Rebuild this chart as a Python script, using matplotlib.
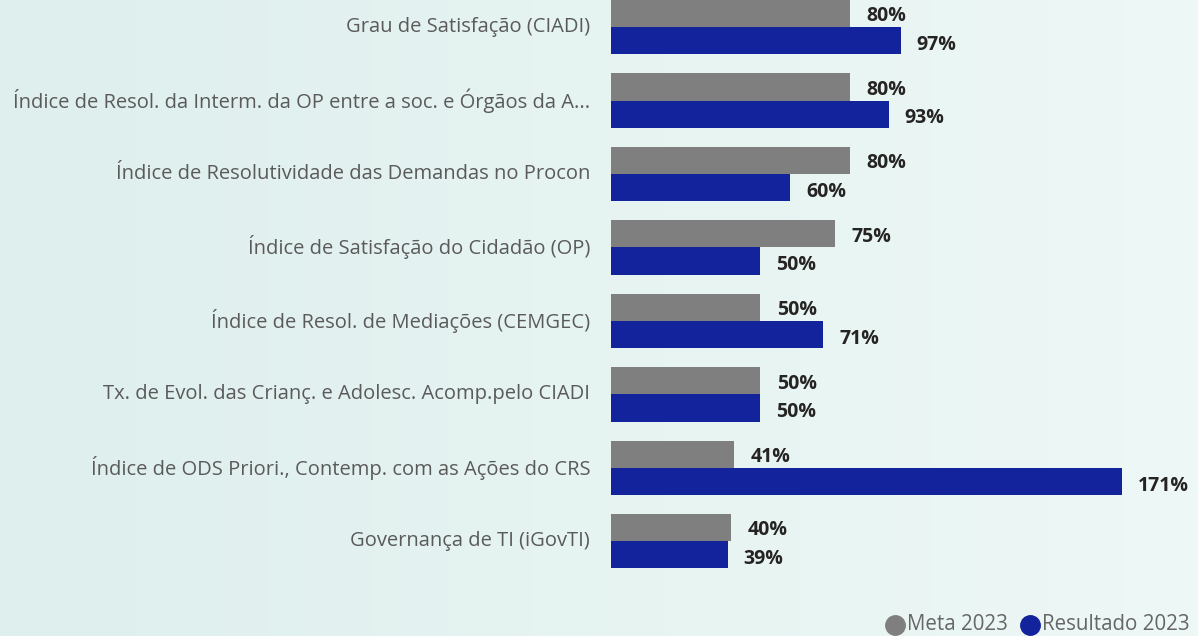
import numpy as np
import matplotlib.pyplot as plt
from matplotlib.lines import Line2D

categorias = [
    "Grau de Satisfação (CIADI)",
    "Índice de Resol. da Interm. da OP entre a soc. e Órgãos da A...",
    "Índice de Resolutividade das Demandas no Procon",
    "Índice de Satisfação do Cidadão (OP)",
    "Índice de Resol. de Mediações (CEMGEC)",
    "Tx. de Evol. das Crianç. e Adolesc. Acomp.pelo CIADI",
    "Índice de ODS Priori., Contemp. com as Ações do CRS",
    "Governança de TI (iGovTI)",
]
meta_2023 = [80, 80, 80, 75, 50, 50, 41, 40]
resultado_2023 = [97, 93, 60, 50, 71, 50, 171, 39]

cor_meta = "#7f7f7f"
cor_res = "#13239c"

plt.rcParams['font.family'] = ['Open Sans', 'DejaVu Sans']

fig = plt.figure(figsize=(11.98, 6.36), dpi=100)
W, H = 1198, 636

# fundo em degradê
bg = fig.add_axes([0, 0, 1, 1], zorder=-1)
esq = np.array([222, 239, 237]) / 255
dir_ = np.array([238, 248, 246]) / 255
t = np.linspace(0, 1, 256)[None, :, None]
grad = esq * (1 - t) + dir_ * t
bg.imshow(grad, aspect="auto", extent=[0, 1, 0, 1])
bg.axis("off")

ax = fig.add_axes([611 / W, 1 - 600 / H, (W - 611) / W, 600 / H])
ax.set_facecolor("none")

y = np.arange(len(categorias))
h = 0.37
ax.barh(y - h / 2, meta_2023, height=h, color=cor_meta)
ax.barh(y + h / 2, resultado_2023, height=h, color=cor_res)

ax.set_xlim(0, (W - 611) / 2.988)
ax.set_ylim(7.80, -0.37)

for i in range(len(categorias)):
    ax.annotate(f"{meta_2023[i]}%", (meta_2023[i], y[i] - h / 2), xytext=(12, -2),
                textcoords="offset points", va="center", ha="left",
                fontsize=14, fontweight="bold", color="#252423")
    ax.annotate(f"{resultado_2023[i]}%", (resultado_2023[i], y[i] + h / 2), xytext=(11.5, -3),
                textcoords="offset points", va="center", ha="left",
                fontsize=14, fontweight="bold", color="#252423")
    ax.annotate(categorias[i], (0, y[i]), xytext=(-15, 0), textcoords="offset points",
                va="center", ha="right", fontsize=14.5, color="#5a5a5a",
                annotation_clip=False)

ax.set_xticks([])
ax.set_yticks([])
for s in ax.spines.values():
    s.set_visible(False)

# legenda
ly = 1 - 625 / H
fig.add_artist(Line2D([895 / W], [ly], marker="o", markersize=14, color=cor_meta,
                      transform=fig.transFigure))
fig.text(907 / W, ly, "Meta 2023", color="#666666", fontsize=14.8, va="center")
fig.add_artist(Line2D([1030 / W], [ly], marker="o", markersize=14, color=cor_res,
                      transform=fig.transFigure))
fig.text(1042 / W, ly, "Resultado 2023", color="#666666", fontsize=14.8, va="center")

fig.savefig("out.png", dpi=100)
